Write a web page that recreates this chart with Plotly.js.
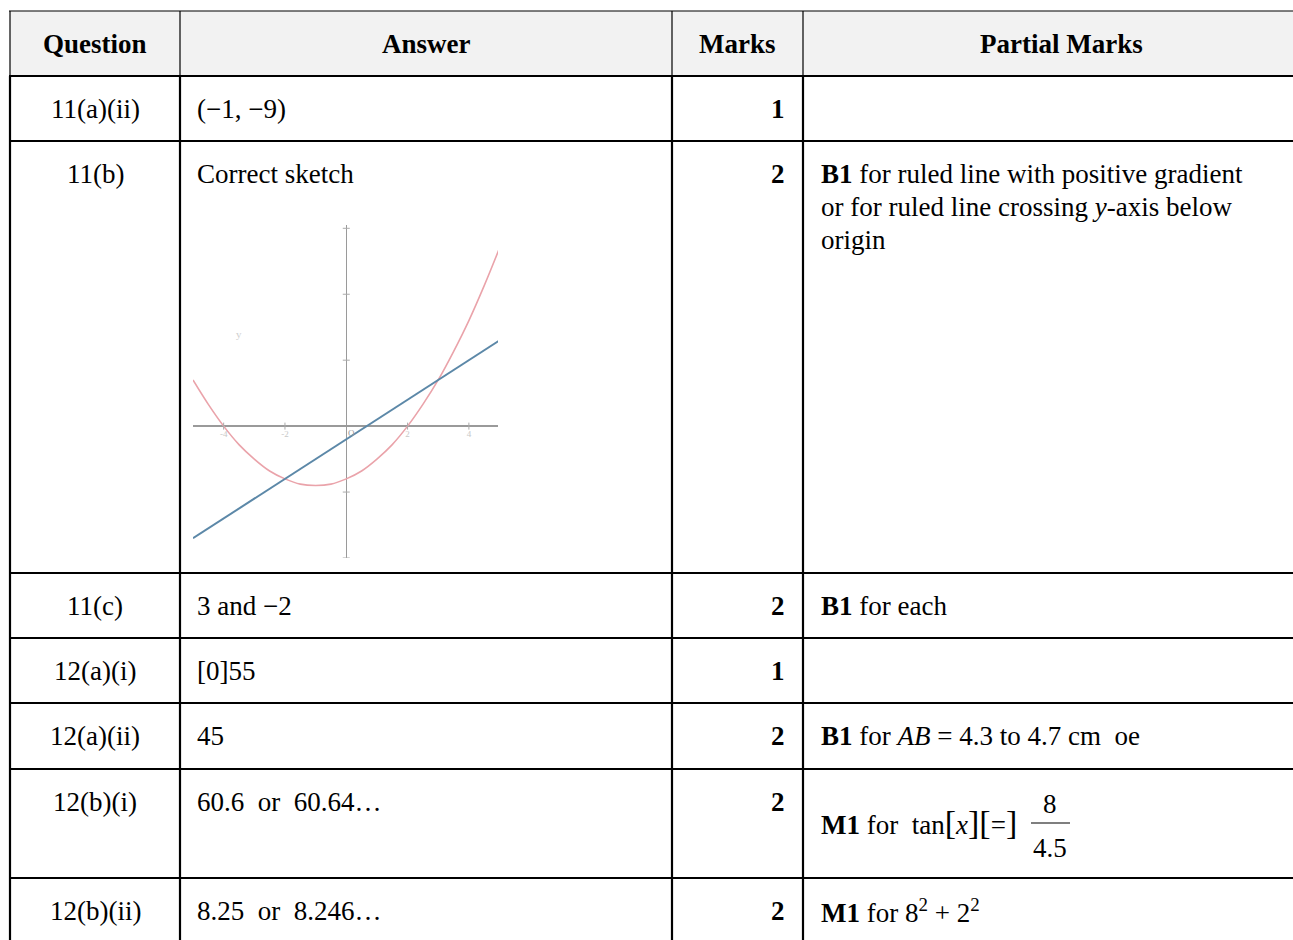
<!DOCTYPE html>
<html>
<head>
<meta charset="utf-8">
<script src="https://cdn.plot.ly/plotly-3.0.1.min.js"></script>
<style>
body { margin: 0; background: #fff; }
#chart { width: 1293px; height: 940px; }
</style>
</head>
<body>
<div id="chart"></div>
<script>
// table content
var headers = ['Question', 'Answer', 'Marks', 'Partial Marks'];
var questions = ['11(a)(ii)', '11(b)', '11(c)', '12(a)(i)', '12(a)(ii)', '12(b)(i)', '12(b)(ii)'];
var answers = ['(\u22121, \u22129)', 'Correct sketch', '3 and \u22122', '[0]55', '45',
	'60.6  or  60.64\u2026', '8.25  or  8.246\u2026'];
var marks = ['1', '2', '2', '1', '2', '2', '2'];
var BR = '<span style="font-size:34px">';
var partial = [
	'',
	'<b>B1</b> for ruled line with positive gradient|or for ruled line crossing <i>y</i>-axis below|origin',
	'<b>B1</b> for each',
	'',
	'<b>B1</b> for <i>AB</i> = 4.3 to 4.7 cm  oe',
	'<b>M1</b> for  tan' + BR + '[</span><i>x</i>' + BR + '][</span>=' + BR + ']</span>',
	'<b>M1</b> for 8<sup>2</sup> + 2<sup>2</sup>'
];
var fracTop = '8';
var fracBottom = '4.5';

// sketch values
var curveX = [-5, -4.5, -4, -3.5, -3, -2.5, -2, -1.5, -1, -0.5, 0, 0.5, 1, 1.5, 2, 2.5, 3, 3.5, 4, 4.5, 5];
var curveY = [7, 3.3, 0, -2.8, -5, -6.8, -8, -8.8, -9, -8.8, -8, -6.8, -5, -2.8, 0, 3.3, 7, 11.3, 16, 21.3, 27];
var lineX = [-5, 5];
var lineY = [-17, 13];
var xTicks = [-4, -2, 2, 4];
var yTicks = [-20, -10, 10, 20, 30];

var W = 1293, H = 940;
var FONT = '"Liberation Serif", "Times New Roman", serif';
var FS = 27;
var colX = [10, 180, 672, 803, 1320];
var rowY = [11, 76, 141, 573, 638, 703, 769, 878, 943];
var LINE_GAP = 33;

function txt(s, x, base, anchor) {
	return {
		text: s, x: x, y: base - 9, xref: 'x', yref: 'y',
		xanchor: anchor, yanchor: 'middle', showarrow: false,
		font: {family: FONT, size: FS, color: '#000'}
	};
}

var annotations = [];
var shapes = [];

// header
shapes.push({type: 'rect', xref: 'x', yref: 'y', x0: colX[0], x1: colX[4], y0: rowY[0], y1: rowY[1],
	fillcolor: '#f2f2f2', line: {width: 0}, layer: 'below'});
for (var c = 0; c < headers.length; c++) {
	annotations.push(txt('<b>' + headers[c] + '</b>', (colX[c] + colX[c + 1]) / 2, rowY[0] + 42, 'center'));
}

// body rows
for (var r = 0; r < questions.length; r++) {
	var base = rowY[r + 1] + 42;
	annotations.push(txt(questions[r], (colX[0] + colX[1]) / 2, base, 'center'));
	annotations.push(txt(answers[r], colX[1] + 15, base, 'left'));
	annotations.push(txt('<b>' + marks[r] + '</b>', colX[3] - 16, base, 'right'));
	var parts = partial[r].split('|');
	for (var k = 0; k < parts.length; k++) {
		if (parts[k] === '') continue;
		var b = base + k * LINE_GAP;
		if (r === 5) b = base + 20; // line sits level with the fraction bar
		annotations.push(txt(parts[k], colX[3] + 16, b, 'left'));
	}
}

// fraction 8 / 4.5
annotations.push(txt(fracTop, 1050, 813, 'center'));
annotations.push(txt(fracBottom, 1050, 857, 'center'));
shapes.push({type: 'line', xref: 'x', yref: 'y', x0: 1031, x1: 1070, y0: 823, y1: 823,
	line: {color: '#000', width: 1.2}});

// grid lines
for (var i = 0; i < rowY.length - 1; i++) {
	shapes.push({type: 'line', xref: 'x', yref: 'y', x0: colX[0] - 1, x1: colX[4], y0: rowY[i], y1: rowY[i],
		line: {color: '#000', width: i === 0 ? 1.2 : 2.2}});
}
for (var j = 0; j < colX.length - 1; j++) {
	shapes.push({type: 'line', xref: 'x', yref: 'y', x0: colX[j], x1: colX[j], y0: rowY[0], y1: rowY[1],
		line: {color: '#000', width: 1.2}});
	shapes.push({type: 'line', xref: 'x', yref: 'y', x0: colX[j], x1: colX[j], y0: rowY[1], y1: H,
		line: {color: '#000', width: 2.2}});
}

// sketch box in pixels
var sk = {left: 193, right: 498, top: 225, bottom: 558};

var traces = [
	{x: curveX, y: curveY, xaxis: 'x2', yaxis: 'y2', mode: 'lines', type: 'scatter',
		line: {color: '#eaa3aa', width: 1.6, shape: 'spline'}, hoverinfo: 'skip'},
	{x: lineX, y: lineY, xaxis: 'x2', yaxis: 'y2', mode: 'lines', type: 'scatter',
		line: {color: '#5c88a8', width: 2}, hoverinfo: 'skip'},
	{x: xTicks, y: xTicks.map(function() { return 0; }), xaxis: 'x2', yaxis: 'y2', type: 'scatter',
		mode: 'markers+text', text: xTicks.map(String), textposition: 'bottom center',
		textfont: {family: FONT, size: 9, color: '#c8c8c8'},
		marker: {symbol: 'line-ns', size: 5, line: {color: '#aaa', width: 1}}, hoverinfo: 'skip'},
	{x: yTicks.map(function() { return 0; }), y: yTicks, xaxis: 'x2', yaxis: 'y2', type: 'scatter',
		mode: 'markers', marker: {symbol: 'line-ew', size: 5, line: {color: '#aaa', width: 1}}, hoverinfo: 'skip'}
];

annotations.push({text: 'O', x: 0, y: 0, xref: 'x2', yref: 'y2', xanchor: 'left', yanchor: 'top',
	showarrow: false, font: {family: FONT, size: 9, color: '#999'}});
annotations.push({text: 'y', x: -3.5, y: 14, xref: 'x2', yref: 'y2', showarrow: false,
	font: {family: FONT, size: 11, color: '#d0d0d0'}});

var layout = {
	width: W, height: H,
	margin: {l: 0, r: 0, t: 0, b: 0},
	paper_bgcolor: '#fff', plot_bgcolor: 'rgba(0,0,0,0)',
	showlegend: false,
	xaxis: {range: [0, W], visible: false, domain: [0, 1], fixedrange: true},
	yaxis: {range: [H, 0], visible: false, domain: [0, 1], fixedrange: true},
	xaxis2: {domain: [sk.left / W, sk.right / W], anchor: 'y2', range: [-5, 4.95],
		showgrid: false, showticklabels: false, showline: false, ticks: '',
		zeroline: true, zerolinecolor: '#9a9a9a', zerolinewidth: 1.5},
	yaxis2: {domain: [1 - sk.bottom / H, 1 - sk.top / H], anchor: 'x2', range: [-20, 30.5],
		showgrid: false, showticklabels: false, showline: false, ticks: '',
		zeroline: true, zerolinecolor: '#9a9a9a', zerolinewidth: 1.5},
	shapes: shapes,
	annotations: annotations
};

Plotly.newPlot('chart', traces, layout, {staticPlot: true, displayModeBar: false});
</script>
</body>
</html>
